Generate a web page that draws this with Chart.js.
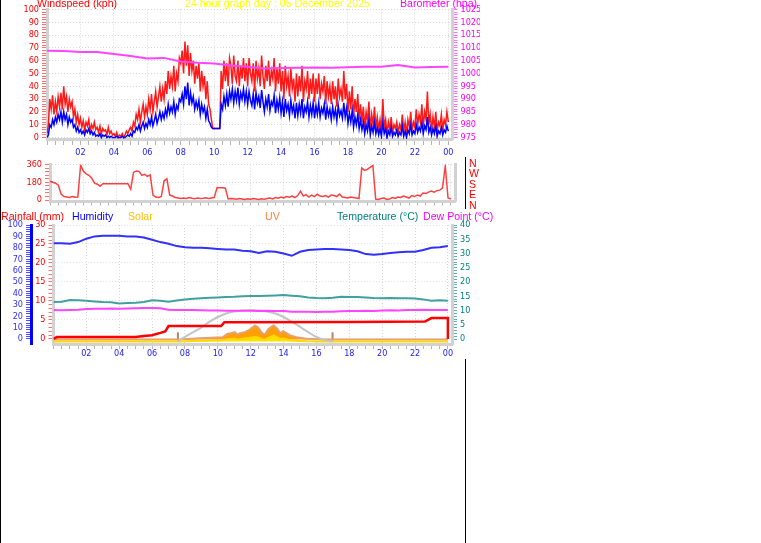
<!DOCTYPE html>
<html>
<head>
<meta charset="utf-8">
<script src="https://cdn.jsdelivr.net/npm/chart.js@4.4.1/dist/chart.umd.min.js"></script>
<style>
  body { margin: 0; width: 761px; height: 543px; background: #fff; position: relative; overflow: hidden;
         font-family: 'Liberation Sans', Arial, sans-serif; }
  .risco { position: absolute; background: #000; }
  canvas { position: absolute; background: #fff; z-index: 1; }
  .txt { position: absolute; font-size: 10.6px; line-height: 12px; white-space: nowrap; z-index: 5; }
</style>
</head>
<body>
<div class="risco" style="left:0;top:0;width:1px;height:543px;z-index:10"></div>
<div class="risco" style="left:465px;top:0;width:1px;height:543px;z-index:0"></div>

<canvas id="graficoVento" width="480" height="157" style="left:0;top:0"></canvas>
<canvas id="graficoDirecao" width="462" height="52" style="left:0;top:157px"></canvas>
<canvas id="graficoClima" width="470" height="150" style="left:0;top:209px"></canvas>

<div class="txt" style="left:37px;top:-3px;color:#ff0000">Windspeed (kph)</div>
<div class="txt" style="left:185px;top:-3px;color:#ffff00">24 hour graph day : 05 December 2025</div>
<div class="txt" style="left:400px;top:-3px;color:#ff00ff">Barometer (hpa)</div>

<div class="txt" style="left:469px;top:158px;color:#ff0000;line-height:10.4px">N<br>W<br>S<br>E<br>N</div>

<div class="txt" style="left:1px;top:210px;color:#ff0000">Rainfall (mm)</div>
<div class="txt" style="left:72px;top:210px;color:#0000ff">Humidity</div>
<div class="txt" style="left:128px;top:210px;color:#ffc000">Solar</div>
<div class="txt" style="left:265px;top:210px;color:#ff8040">UV</div>
<div class="txt" style="left:337px;top:210px;color:#008080">Temperature (°C)</div>
<div class="txt" style="left:423px;top:210px;color:#ff00ff">Dew Point (°C)</div>

<script>
// 5 minute samples, 00:00 -> 24:00 (kph)
const windGust = [
  3, 10, 30, 22, 33, 18, 28, 20, 32, 24, 35, 22,
  40, 26, 32, 20, 30, 24, 28, 16, 22, 12, 18, 10,
  15, 8, 13, 6, 12, 9, 14, 5, 10, 7, 12, 6,
  8, 4, 9, 3, 7, 5, 6, 2, 8, 3, 5, 2,
  3, 1, 4, 0, 2, 1, 3, 0, 2, 5, 3, 6,
  8, 5, 12, 9, 18, 14, 22, 12, 20, 26, 16, 24,
  18, 30, 22, 34, 20, 28, 36, 24, 32, 40, 28, 38,
  30, 44, 34, 52, 38, 48, 40, 56, 36, 50, 44, 62,
  58, 68, 50, 75, 56, 72, 48, 66, 52, 60, 42, 56,
  46, 58, 36, 52, 40, 48, 30, 44, 26, 22, 14, 7,
  7, 7, 7, 7, 7, 52, 38, 60, 44, 58, 40, 62,
  56, 42, 64, 48, 44, 60, 40, 56, 46, 62, 44, 58,
  40, 62, 50, 44, 58, 36, 60, 46, 54, 40, 64, 48,
  38, 56, 44, 60, 40, 52, 46, 62, 36, 54, 42, 58,
  36, 52, 30, 56, 40, 48, 32, 54, 38, 46, 28, 50,
  32, 48, 36, 56, 28, 44, 38, 52, 30, 46, 34, 50,
  28, 46, 34, 50, 30, 42, 36, 48, 26, 44, 32, 40,
  26, 44, 30, 40, 24, 46, 32, 38, 28, 52, 30, 42,
  20, 36, 22, 40, 16, 30, 20, 34, 14, 26, 12, 24,
  8, 20, 12, 28, 6, 18, 10, 24, 8, 16, 6, 14,
  5, 30, 8, 14, 3, 12, 6, 16, 4, 10, 7, 12,
  4, 10, 6, 18, 5, 12, 3, 14, 8, 20, 6, 12,
  8, 22, 10, 18, 12, 26, 8, 20, 14, 36, 10, 18,
  6, 16, 8, 20, 5, 12, 9, 18, 6, 14, 10, 20,
  12
];
const windAvg = [
  0, 2, 10, 8, 14, 10, 16, 12, 18, 14, 20, 12,
  20, 14, 18, 10, 16, 12, 14, 8, 10, 5, 8, 4,
  6, 3, 5, 2, 6, 4, 7, 3, 5, 2, 4, 1,
  2, 1, 3, 0, 2, 1, 2, 0, 1, 0, 1, 0,
  0, 0, 1, 0, 0, 0, 1, 0, 0, 1, 2, 1,
  3, 1, 5, 4, 8, 6, 10, 5, 9, 12, 7, 11,
  8, 14, 10, 16, 9, 13, 18, 11, 15, 20, 14, 19,
  15, 22, 17, 26, 19, 24, 20, 28, 18, 25, 22, 30,
  28, 34, 26, 40, 30, 43, 25, 35, 27, 32, 22, 28,
  23, 29, 18, 26, 20, 24, 15, 22, 13, 11, 8, 7,
  7, 7, 7, 7, 7, 26, 22, 32, 25, 34, 24, 36,
  30, 38, 27, 36, 29, 39, 26, 35, 30, 38, 28, 36,
  26, 36, 29, 25, 34, 22, 35, 27, 32, 23, 37, 28,
  20, 30, 24, 34, 21, 28, 25, 33, 19, 29, 22, 31,
  19, 28, 16, 30, 21, 26, 17, 29, 20, 25, 15, 27,
  17, 26, 19, 30, 15, 24, 20, 28, 16, 25, 18, 27,
  15, 25, 18, 27, 16, 23, 19, 26, 14, 24, 17, 22,
  14, 24, 16, 22, 13, 25, 17, 21, 15, 27, 16, 23,
  11, 19, 12, 21, 8, 16, 10, 18, 7, 14, 6, 12,
  3, 10, 5, 14, 2, 9, 4, 12, 3, 8, 2, 7,
  1, 12, 3, 7, 0, 5, 2, 8, 1, 4, 2, 6,
  1, 4, 2, 9, 1, 5, 0, 6, 3, 10, 2, 5,
  3, 10, 4, 8, 5, 12, 3, 9, 6, 16, 4, 8,
  2, 7, 3, 9, 1, 5, 3, 8, 2, 6, 4, 9,
  5
];
// hourly (hPa)
const barometer = [
  1008.9, 1008.8, 1008.4, 1008.4, 1007.6, 1006.8, 1005.9, 1006.1, 1004.7, 1004.2,
  1003.9, 1003.1, 1002.6, 1002.0, 1002.1, 1002.2, 1002.3, 1002.2, 1002.4, 1002.6,
  1002.6, 1003.3, 1002.3, 1002.5, 1002.6
];
// 10 minute samples (degrees)
const windDir = [
  190, 180, 170, 150, 60, 35,
  30, 25, 35, 28, 30, 355,
  290, 265, 250, 220, 170, 160,
  140, 165, 165, 165, 165, 165,
  165, 165, 165, 165, 165, 110,
  280, 295, 290, 250, 260, 240,
  255, 50, 30, 25, 35, 195,
  215, 50, 40, 25, 20, 15,
  20, 15, 25, 18, 12, 20,
  15, 18, 22, 15, 20, 25,
  125, 125, 125, 120, 10, 15,
  12, 8, 15, 10, 5, 12,
  8, 15, 10, 5, 12, 8,
  15, 20, 10, 25, 18, 30,
  20, 35, 28, 40, 25, 45,
  90, 40, 55, 30, 50, 35,
  60, 40, 35, 45, 30, 50,
  45, 35, 60, 30, 25, 20,
  30, 25, 20, 15, 325, 300,
  310, 330, 350, 10, 5, 15,
  20, 5, 10, 25, 15, 30,
  25, 40, 30, 20, 45, 35,
  50, 40, 70, 65, 80, 90,
  80, 95, 100, 120, 345, 20,
  10
];
// half hourly
const humidity = [
  84, 84, 83.5, 85, 88, 90, 90.5, 90.5, 90.5, 90, 90, 89,
  87, 85, 83.5, 81.5, 80.5, 80, 80, 79.5, 79, 78.5, 78.5, 77.5,
  77, 75.5, 77, 76.5, 75, 73, 76.5, 78, 78.5, 79, 79, 78.5,
  78, 77, 74.5, 74, 74.5, 75.5, 76, 76.5, 76.5, 78, 80, 80.5,
  81.5
];
const temperature = [
  13.0, 13.1, 13.7, 13.6, 13.4, 13.2, 13.0, 12.9, 12.5, 12.6, 12.7, 13.0,
  13.6, 13.4, 13.1, 13.5, 13.9, 14.1, 14.3, 14.5, 14.6, 14.7, 14.8, 15.0,
  15.1, 15.1, 15.2, 15.3, 15.4, 15.2, 15.0, 14.6, 14.4, 14.3, 14.5, 14.8,
  14.7, 14.7, 14.6, 14.4, 14.3, 14.4, 14.3, 14.3, 14.2, 13.9, 13.4, 13.6,
  13.4
];
const dewPoint = [
  10.2, 10.1, 10.2, 10.3, 10.5, 10.6, 10.6, 10.7, 10.6, 10.7, 10.8, 10.9,
  10.9, 10.8, 10.3, 10.2, 10.2, 10.2, 10.1, 10.0, 10.0, 9.9, 9.9, 9.9,
  9.9, 9.8, 9.9, 9.8, 9.8, 9.6, 9.6, 9.6, 9.5, 9.6, 9.6, 9.7,
  9.8, 9.8, 9.9, 9.8, 10.0, 10.1, 10.0, 10.2, 10.2, 10.3, 10.2, 10.2,
  10.2
];
const rainHours = [0, 0.2, 5.0, 5.5, 6.0, 6.5, 6.8, 7.0, 10.2, 10.4, 18.0, 22.6, 23.0, 24, 24];
const rainMm =    [0, 0.5, 0.5, 0.8, 1.0, 1.6, 2.0, 3.4, 3.4, 4.4, 4.5, 4.6, 5.5, 5.5, 0];

const solarHours = [0, 7.7, 8.9, 10.3, 10.6, 10.8, 11.04, 11.16, 11.35, 11.65, 11.96, 12.26, 12.45,
  12.69, 12.87, 13.05, 13.3, 13.4, 13.6, 13.8, 13.97, 14.2, 14.4, 14.8, 15.4, 16.4, 24];
const solarWm2 = [0, 0, 5, 10, 20, 22, 25, 15, 20, 25, 32, 38, 35,
  18, 15, 30, 45, 50, 38, 20, 25, 18, 10, 6, 2, 0, 0];
const uvIndex = [0, 0, 0.1, 0.2, 0.5, 0.55, 0.64, 0.44, 0.55, 0.64, 0.88, 1.23, 1.05,
  0.55, 0.44, 0.88, 1.14, 1.23, 0.97, 0.55, 0.73, 0.53, 0.35, 0.2, 0.06, 0, 0];

const sunMaxHours = [7.55, 8, 8.5, 9, 9.5, 10, 10.5, 11, 11.5, 12, 12.5, 13, 13.5, 14, 14.5, 15, 15.5, 16, 16.5, 17];
const sunMaxWm2 = [0, 40, 80, 120, 170, 210, 240, 256, 265, 268, 266, 258, 240, 210, 170, 125, 80, 38, 12, 0];
const sunEvents = [7.57, 16.98];

const xTickLabels = ['02', '04', '06', '08', '10', '12', '14', '16', '18', '20', '22', '00'];

const sunMarkerHeight = 80;
const fonteEixo = { family: "'Liberation Sans Narrow', 'DejaVu Sans Condensed', sans-serif", size: 9, lineHeight: 1 };
const cinzaEixo = '#d2d2d2';
const cinzaGrade = '#d6d6d6';

function pontos(stepHours, values) {
  return values.map((v, i) => ({ x: i * stepHours, y: v }));
}
function pares(xs, ys) {
  return xs.map((x, i) => ({ x: x, y: ys[i] }));
}

function eixoTempo(showLabels, height, tickLen, pad) {
  return {
    type: 'linear', min: 0, max: 24.25,
    afterFit: a => { a.height = height; },
    ticks: {
      stepSize: 0.5, autoSkip: false, includeBounds: false, maxRotation: 0, minRotation: 0,
      padding: pad, color: '#2020ff', font: fonteEixo,
      callback: v => (showLabels && v > 0 && v % 2 === 0) ? xTickLabels[v / 2 - 1] : ''
    },
    grid: {
      color: c => (c.tick && c.tick.value % 2 === 0) ? cinzaGrade : 'transparent',
      tickColor: '#b4b4b4', tickLength: tickLen, tickWidth: 1
    },
    border: { display: true, color: cinzaEixo, width: 3, dash: [1, 2] }
  };
}

// the 0 of each value axis sits a few pixels above the drawn axis line
function eixoY(pos, min, max, step, every, width, color, tickColor, opts) {
  return Object.assign({
    position: pos, min: min, max: max,
    afterFit: a => { a.width = width; },
    ticks: {
      stepSize: step, autoSkip: false, includeBounds: false, padding: 3, color: color, font: fonteEixo,
      callback: v => (v >= 0 && Math.abs(v % every) < 1e-9) ? v : ''
    },
    grid: {
      drawOnChartArea: false, tickLength: 5, tickWidth: 1,
      tickColor: c => (c.tick && c.tick.value < 0) ? 'transparent' : tickColor
    },
    border: { display: true, color: cinzaEixo, width: 3, dash: [1, 2] }
  }, opts || {});
}
function gradeY(every, color, tickColor) {
  return {
    color: c => (c.tick && c.tick.value >= 0 && c.tick.value % every === 0) ? color : 'transparent',
    tickColor: c => (c.tick && c.tick.value < 0) ? 'transparent' : tickColor,
    tickLength: 5, tickWidth: 1
  };
}

const opcoesBase = {
  responsive: false,
  animation: false,
  events: [],
  elements: { point: { radius: 0 }, line: { tension: 0 } },
  plugins: { legend: { display: false }, tooltip: { enabled: false } }
};

// Windspeed + barometer
new Chart(document.getElementById('graficoVento'), {
  type: 'line',
  data: {
    datasets: [
      { data: pontos(1, barometer), yAxisID: 'yBaro', borderColor: '#ff44ff', borderWidth: 2 },
      { data: pontos(5 / 60, windAvg), yAxisID: 'yWind', borderColor: '#0000ff', borderWidth: 1.5 },
      { data: pontos(5 / 60, windGust), yAxisID: 'yWind', borderColor: 'rgba(255,0,0,0.9)', borderWidth: 1.5 }
    ]
  },
  options: Object.assign({}, opcoesBase, {
    layout: { padding: { top: 9.5, left: 0, right: 0, bottom: 0 } },
    scales: {
      x: eixoTempo(true, 18, 6, 3),
      yWind: eixoY('left', -1.17, 100, 2, 10, 47, '#ff0000', '#ff7070', {
        grid: gradeY(10, cinzaGrade, '#ff7070')
      }),
      yBaro: eixoY('right', 974.41, 1025, 1, 5, 480 - 452.5, '#ff00ff', '#ff70ff')
    }
  })
});

// Wind direction
new Chart(document.getElementById('graficoDirecao'), {
  type: 'line',
  data: {
    datasets: [
      { data: pontos(10 / 60, windDir), yAxisID: 'yDir', borderColor: 'rgba(255,0,0,0.75)', borderWidth: 1.5 }
    ]
  },
  options: Object.assign({}, opcoesBase, {
    layout: { padding: { top: 5, left: 0, right: 0, bottom: 0 } },
    scales: {
      x: eixoTempo(false, 5, 4, 0),
      yDir: eixoY('left', -15.2, 360, 36, 180, 50, '#ff0000', '#ff7070', {
        grid: gradeY(180, cinzaGrade, '#ff7070')
      }),
      yEdge: {
        position: 'right', min: 0, max: 1,
        afterFit: a => { a.width = 7; },
        ticks: { display: false },
        grid: { drawOnChartArea: false, drawTicks: false },
        border: { display: true, color: cinzaEixo, width: 3 }
      }
    }
  })
});

// Rain, humidity, solar, UV, temperature, dew point
const marcadoresSol = [];
sunEvents.forEach((h, i) => {
  if (i > 0) marcadoresSol.push({ x: h, y: null });
  marcadoresSol.push({ x: h, y: 0 }, { x: h, y: sunMarkerHeight });
});

new Chart(document.getElementById('graficoClima'), {
  type: 'line',
  data: {
    datasets: [
      { data: pares(rainHours, rainMm), yAxisID: 'yRain', borderColor: '#ff0000', borderWidth: 2.5 },
      { data: pontos(0.5, humidity), yAxisID: 'yHum', borderColor: '#3030ff', borderWidth: 2 },
      { data: pontos(0.5, temperature), yAxisID: 'yTemp', borderColor: '#40a0a0', borderWidth: 2 },
      { data: pontos(0.5, dewPoint), yAxisID: 'yTemp', borderColor: '#ff44ff', borderWidth: 2 },
      { data: pares(sunMaxHours, sunMaxWm2), yAxisID: 'ySolar', borderColor: '#c4c4c4', borderWidth: 2, tension: 0.4 },
      { data: pares(solarHours, solarWm2), yAxisID: 'ySolar', borderColor: '#ffd800', borderWidth: 2,
        fill: 'origin', backgroundColor: '#ffe000' },
      { data: pares(solarHours, uvIndex), yAxisID: 'yUV', borderColor: '#e8a070', borderWidth: 2,
        fill: 'origin', backgroundColor: '#ffa000' },
      { data: marcadoresSol, yAxisID: 'ySolar', borderColor: '#b08860', borderWidth: 2, spanGaps: false }
    ]
  },
  options: Object.assign({}, opcoesBase, {
    layout: { padding: { top: 16, left: 0, right: 0, bottom: 0 } },
    scales: {
      x: eixoTempo(true, 15, 5, 0.5),
      yHum: eixoY('left', -4.386, 100, 2, 10, 31, '#3030ff', '#5050ff', {
        weight: 2,
        border: { display: true, color: '#0000ff', width: 3 }
      }),
      yRain: eixoY('left', -1.316, 30, 1, 5, 22.5, '#ff0000', '#ff7070', {
        weight: 1,
        grid: gradeY(5, '#e4e4e4', '#ff7070')
      }),
      yTemp: eixoY('right', -1.754, 40, 1, 5, 18, '#008080', '#60b0b0'),
      ySolar: { display: false, min: -21.9, max: 1000 },
      yUV: { display: false, min: -0.395, max: 10 }
    }
  })
});
</script>
</body>
</html>
